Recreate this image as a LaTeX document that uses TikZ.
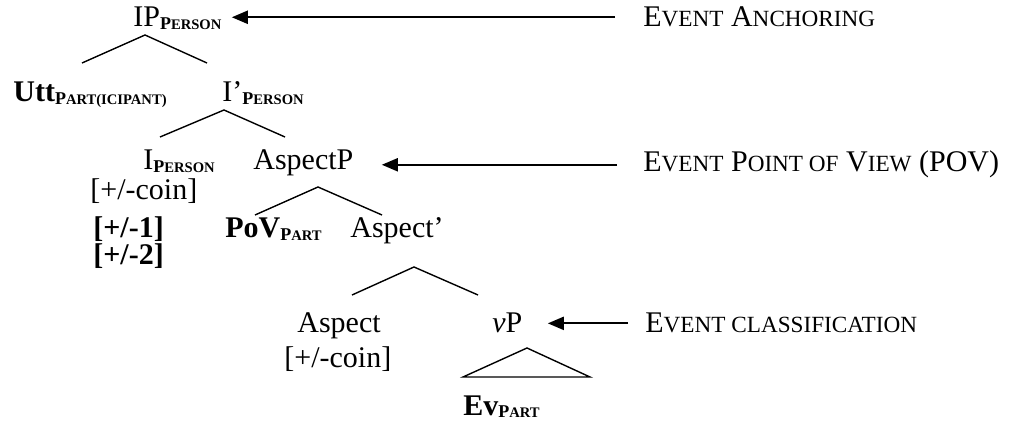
\documentclass[tikz,border=0pt]{standalone}
\usepackage{fontspec}
\setmainfont{Liberation Serif}
\usetikzlibrary{arrows.meta}
\newcommand{\lsc}[1]{{\fontsize{11.6}{13}\selectfont #1}}
\newcommand{\bsub}[2]{\raisebox{-1.3pt}{\bfseries\fontsize{9}{10}\selectfont #1\fontsize{7.3}{8}\selectfont #2}}
\tikzset{branch/.style={black, line width=0.7pt},
         evarrow/.style={black, line width=1pt, -{Triangle[length=8pt, width=6.5pt]}},
         word/.style={inner sep=0pt, anchor=base west}}

\begin{document}
\begin{tikzpicture}[x=0.5pt, y=-0.5pt, font=\fontsize{15}{18}\selectfont]
    \useasboundingbox (0,0) rectangle (1012,422);
    %Tree
    \node[word] (ip) at (133,27) {IP\bsub{P}{ERSON}};
    \node[word] (utt) at (13,102) {\textbf{Utt}\bsub{P}{ART(ICIPANT)}};
    \node[word] (ibar) at (222,102) {I'\bsub{P}{ERSON}};
    \node[word] (i) at (143,170) {I\bsub{P}{ERSON}};
    \node[word] (aspp) at (253,170) {AspectP};
    \node[word] (coin) at (90,200) {[+/-coin]};
    \node[word] (one) at (93,238) {\textbf{[+/-1]}};
    \node[word] (two) at (93,265) {\textbf{[+/-2]}};
    \node[word] (pov) at (225,238) {\textbf{PoV}\bsub{P}{ART}};
    \node[word] (aspbar) at (350,238) {Aspect'};
    \node[word] (asp) at (297,333) {Aspect};
    \node[word] (coinb) at (284,367) {[+/-coin]};
    \node[word] (vp) at (492,333) {\textit{v}P};
    \node[word] (ev) at (463,415) {\textbf{Ev}\bsub{P}{ART}};
    \draw[branch] (82,63) -- (145,35) -- (207,63);
    \draw[branch] (160,137) -- (224,110) -- (285,137);
    \draw[branch] (255,215) -- (318,187) -- (382,215);
    \draw[branch] (352,295) -- (414,267) -- (478,295);
    \draw[branch] (463,377) -- (527,348) -- (590,377) -- cycle;
    %Labels
    \node[word] (anch) at (643,27) {E\lsc{VENT} A\lsc{NCHORING}};
    \node[word] (view) at (643,172) {E\lsc{VENT} P\lsc{OINT OF} V\lsc{IEW} (POV)};
    \node[word] (class) at (645,333) {E\lsc{VENT CLASSIFICATION}};
    \draw[evarrow, shorten <=14pt, shorten >=5pt] (anch.west) -- (anch.west -| ip.east);
    \draw[evarrow, shorten <=13pt, shorten >=14pt] (view.west) -- (view.west -| aspp.east);
    \draw[evarrow, shorten <=8.5pt, shorten >=12.5pt] (class.west) -- (class.west -| vp.east);
  \end{tikzpicture}
\end{document}
